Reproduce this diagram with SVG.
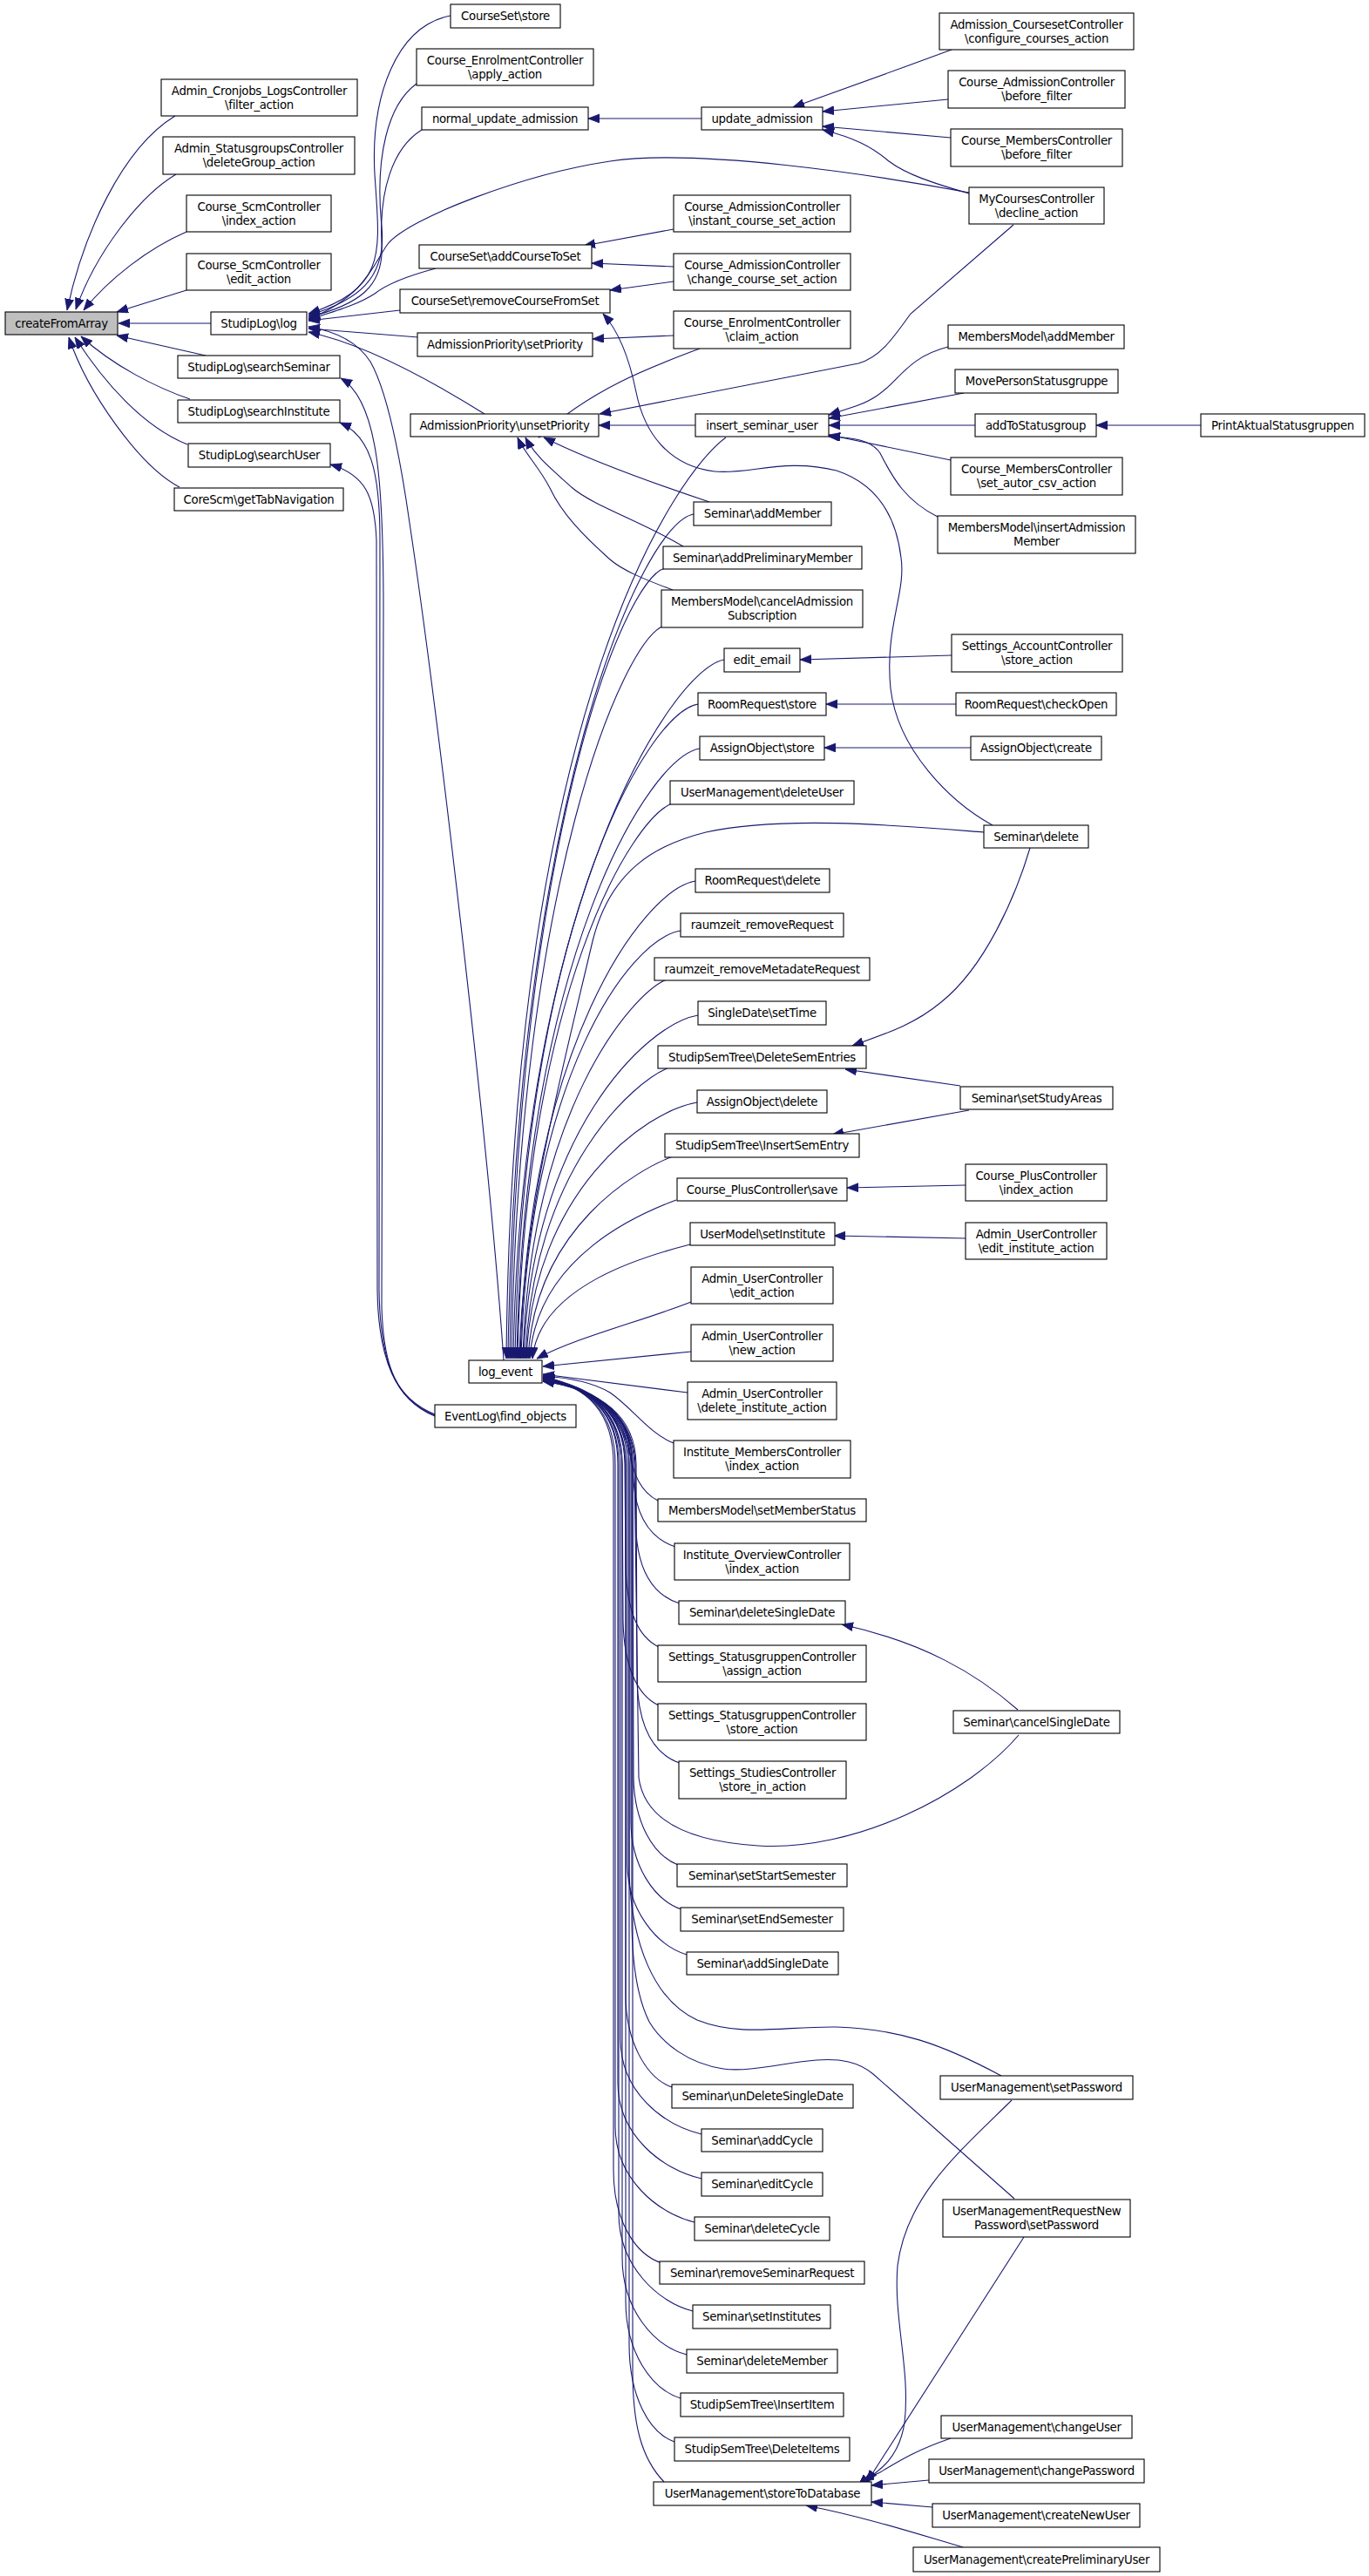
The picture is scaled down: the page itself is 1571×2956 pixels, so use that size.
<svg xmlns="http://www.w3.org/2000/svg" width="1571" height="2956" viewBox="0 0 1571 2956">
<style>
.node rect{fill:#fff;stroke:#000;stroke-width:1.1}
.node text{font-family:"DejaVu Sans","Liberation Sans",sans-serif;font-size:13.3px;letter-spacing:-0.3px;text-anchor:middle;fill:#000}
#edges path{fill:none;stroke:#191970;stroke-width:1.1;marker-end:url(#ah)}
</style>
<defs>
<marker id="ah" markerUnits="userSpaceOnUse" markerWidth="14" markerHeight="11" refX="13" refY="5" orient="auto">
<path d="M0,0 L13,5 L0,10 z" fill="#191970" stroke="#191970" stroke-width="0.8"/>
</marker>
</defs>
<rect x="0" y="0" width="1571" height="2956" fill="#fff"/>
<g id="edges">
<path d="M201,133 C140,170 95,270 77,356"/>
<path d="M202,200 C160,225 110,290 87,355"/>
<path d="M214,266 C170,285 125,320 96,356"/>
<path d="M214,333 L134,358"/>
<path d="M242,371 L136,371"/>
<path d="M236,408 L134,385"/>
<path d="M218,458 C180,445 130,420 93,386"/>
<path d="M215,510 C165,490 120,440 86,387"/>
<path d="M206,559 C160,535 100,450 79,387"/>
<path d="M517,18 C455,30 425,110 430,200 C436,290 445,330 354,360"/>
<path d="M478,96 C445,120 430,180 438,260 C444,320 410,345 354,362"/>
<path d="M484,149 C450,170 435,220 438,280 C441,330 410,350 354,364"/>
<path d="M1112,221 C1000,200 800,170 700,185 C600,200 470,250 445,280 C430,300 420,340 354,366"/>
<path d="M500,308 C470,316 445,325 430,337 C410,350 385,357 354,367"/>
<path d="M459,356 L354,368"/>
<path d="M480,387 L354,377"/>
<path d="M556,475 C500,440 420,395 354,381"/>
<path d="M578,1561 C560,1300 500,800 470,600 C460,530 445,450 425,415 C410,392 385,380 354,375"/>
<path d="M499,1623 C455,1605 440,1570 438,1500 L440,700 C440,560 435,460 391,434"/>
<path d="M499,1624 C452,1606 436,1560 435,1480 L436,620 C436,540 425,500 390,485"/>
<path d="M499,1625 C454,1607 434,1560 433,1480 L432,620 C430,570 420,545 379,533"/>
<path d="M805,136 L675,136"/>
<path d="M773,263 L670,282"/>
<path d="M773,306 L679,302"/>
<path d="M773,323 L700,333"/>
<path d="M1139,947 C1090,920 1030,860 1022,790 C1015,720 1040,680 1034,640 C1028,590 1005,555 960,540 C900,525 860,545 820,541 C770,535 740,500 730,450 C722,410 710,380 692,360"/>
<path d="M773,385 L680,389"/>
<path d="M803,400 C750,420 680,445 618,502"/>
<path d="M1163,258 L1045,360 C1025,388 1010,410 985,417 L688,475"/>
<path d="M798,488 L687,488"/>
<path d="M814,576 C760,558 680,530 624,502"/>
<path d="M784,627 C740,600 680,580 657,560 C635,540 615,525 603,502"/>
<path d="M772,677 C740,665 715,655 700,642 C670,615 645,590 631,560 C618,535 602,520 594,502"/>
<path d="M1092,57 C1030,80 960,105 910,123"/>
<path d="M1088,114 L944,128"/>
<path d="M1091,158 L944,145"/>
<path d="M1112,222 C1070,210 1040,200 1020,185 C1000,168 980,158 944,149"/>
<path d="M1088,398 C1040,410 1030,440 1005,455 C990,465 970,470 951,476"/>
<path d="M1106,451 L951,480"/>
<path d="M1119,488 L951,488"/>
<path d="M1091,528 L951,499"/>
<path d="M1076,593 C1040,575 1025,550 1010,520 C1000,505 980,502 951,501"/>
<path d="M1378,488 L1258,488"/>
<path d="M1092,752 L918,757"/>
<path d="M1097,808 L948,808"/>
<path d="M1114,858 L946,858"/>
<path d="M1182,973 C1165,1030 1130,1110 1080,1150 C1050,1175 1020,1185 978,1200"/>
<path d="M1102,1246 L970,1227"/>
<path d="M1112,1274 L955,1302"/>
<path d="M1108,1360 L972,1363"/>
<path d="M1108,1421 L957,1418"/>
<path d="M1168,1962 C1120,1920 1060,1885 966,1864"/>
<path d="M1161,2410 C1100,2470 1040,2520 1030,2600 C1025,2660 1045,2720 1038,2780 C1032,2820 1010,2835 990,2848"/>
<path d="M1175,2567 L995,2848"/>
<path d="M1091,2798 C1050,2812 1030,2825 1010,2837 C1000,2842 990,2845 1000,2850"/>
<path d="M1066,2846 L1000,2852"/>
<path d="M1070,2877 L1000,2871"/>
<path d="M1105,2923 C1060,2910 1000,2890 925,2875"/>
<path d="M833,502 C780,540 588,800 581,1559"/>
<path d="M796,590 C736,600 591,929 583,1559"/>
<path d="M763,652 C715,665 593,969 585,1559"/>
<path d="M762,718 C715,735 595,1012 587,1559"/>
<path d="M831,757 C771,767 597,1038 589,1559"/>
<path d="M801,808 C741,818 599,1071 591,1559"/>
<path d="M803,859 C743,869 601,1104 593,1559"/>
<path d="M774,921 C725,935 602,1144 594,1559"/>
<path d="M1129,955 C1040,948 900,935 810,955 C750,970 700,1000 680,1080 C640,1250 600,1400 596,1559"/>
<path d="M798,1011 C738,1021 605,1203 597,1559"/>
<path d="M781,1068 C721,1078 606,1240 598,1559"/>
<path d="M765,1124 C725,1140 608,1276 600,1559"/>
<path d="M801,1165 C741,1175 609,1303 601,1559"/>
<path d="M768,1225 C728,1240 611,1342 603,1559"/>
<path d="M800,1265 C740,1275 612,1368 604,1559"/>
<path d="M772,1327 C732,1342 614,1408 606,1559"/>
<path d="M776,1377 C736,1392 616,1441 608,1559"/>
<path d="M792,1428 C745,1440 619,1474 611,1559"/>
<path d="M793,1494 C740,1515 660,1535 616,1559"/>
<path d="M793,1551 L623,1568"/>
<path d="M789,1598 L623,1577"/>
<path d="M773,1656 C745,1645 725,1615 700,1598 C680,1586 655,1581 623,1579"/>
<path d="M755,1722 C735,1712 725,1690 722,1660 C718,1620 680,1592 623,1580"/>
<path d="M775,1775 C745,1765 730,1740 727,1700 C724,1625 682,1593 623,1581"/>
<path d="M780,1840 C748,1830 733,1800 730,1760 L729,1680 C727,1622 684,1594 623,1582"/>
<path d="M756,1890 C732,1878 720,1850 718,1800 L717,1680 C716,1620 680,1592 623,1583"/>
<path d="M756,1957 C730,1945 716,1910 715,1860 L714,1680 C713,1620 678,1592 623,1584"/>
<path d="M780,2023 C748,2012 733,1980 731,1930 L730,1680 C729,1620 684,1594 623,1585"/>
<path d="M1169,1991 C1110,2060 980,2125 870,2118 C790,2113 740,2090 733,2040 L728,1680 C726,1620 682,1593 623,1584"/>
<path d="M778,2140 C748,2128 728,2090 727,2040 L726,1680 C725,1620 682,1593 623,1583"/>
<path d="M782,2191 C750,2180 724,2140 724,2090 L724,1680 C723,1620 682,1593 623,1582"/>
<path d="M788,2243 C752,2232 720,2190 720,2140 L720,1680 C720,1620 680,1592 623,1581"/>
<path d="M1149,2382 C1080,2345 1030,2328 960,2326 C900,2325 850,2338 800,2318 C750,2295 725,2230 722,2150 L722,1680 C722,1620 680,1592 623,1584"/>
<path d="M1164,2523 L1002,2380 C985,2366 965,2362 937,2364 C900,2367 860,2378 830,2374 C790,2368 760,2345 745,2320 C730,2290 725,2250 725,2200 L725,1680 C725,1620 682,1593 623,1585"/>
<path d="M771,2395 C740,2384 718,2340 718,2290 L718,1680 C717,1620 680,1592 623,1583"/>
<path d="M805,2449 C760,2438 712,2400 712,2340 L712,1680 C712,1620 678,1592 623,1582"/>
<path d="M805,2500 C760,2490 709,2450 709,2390 L709,1680 C709,1620 676,1592 623,1581"/>
<path d="M797,2550 C755,2540 706,2500 706,2440 L706,1680 C706,1620 675,1592 623,1580"/>
<path d="M760,2597 C730,2588 704,2550 704,2490 L704,1680 C704,1620 674,1592 623,1579"/>
<path d="M795,2652 C755,2642 710,2600 710,2540 L710,1680 C710,1620 676,1592 623,1580"/>
<path d="M788,2702 C750,2692 714,2650 714,2590 L714,1680 C714,1620 678,1592 623,1581"/>
<path d="M781,2752 C748,2742 718,2700 718,2640 L718,1680 C718,1620 680,1592 623,1582"/>
<path d="M774,2802 C745,2792 722,2750 722,2690 L722,1680 C722,1620 680,1592 623,1583"/>
<path d="M762,2848 C735,2820 726,2780 726,2720 L726,1680 C726,1620 682,1593 623,1584"/>
</g>
<g id="n_createFromArray" class="node"><rect x="6" y="358" width="129" height="26" style="fill:#bfbfbf"/><text x="70.5" y="375.5">createFromArray</text></g>
<g id="n_filter_action" class="node"><rect x="185" y="91" width="225" height="42"/><text x="297.5" y="108.5">Admin_Cronjobs_LogsController</text><text x="297.5" y="124.5">\filter_action</text></g>
<g id="n_deleteGroup" class="node"><rect x="187" y="157" width="220" height="43"/><text x="297" y="175">Admin_StatusgroupsController</text><text x="297" y="191">\deleteGroup_action</text></g>
<g id="n_scm_index" class="node"><rect x="214" y="224" width="166" height="42"/><text x="297" y="241.5">Course_ScmController</text><text x="297" y="257.5">\index_action</text></g>
<g id="n_scm_edit" class="node"><rect x="214" y="291" width="166" height="42"/><text x="297" y="308.5">Course_ScmController</text><text x="297" y="324.5">\edit_action</text></g>
<g id="n_studiplog_log" class="node"><rect x="242" y="358" width="110" height="26"/><text x="297" y="375.5">StudipLog\log</text></g>
<g id="n_searchSeminar" class="node"><rect x="204" y="408" width="186" height="26"/><text x="297" y="425.5">StudipLog\searchSeminar</text></g>
<g id="n_searchInstitute" class="node"><rect x="204" y="459" width="186" height="26"/><text x="297" y="476.5">StudipLog\searchInstitute</text></g>
<g id="n_searchUser" class="node"><rect x="216" y="509" width="163" height="27"/><text x="297.5" y="527">StudipLog\searchUser</text></g>
<g id="n_getTabNavigation" class="node"><rect x="200" y="560" width="194" height="26"/><text x="297" y="577.5">CoreScm\getTabNavigation</text></g>
<g id="n_courseset_store" class="node"><rect x="517" y="5" width="126" height="27"/><text x="580" y="23">CourseSet\store</text></g>
<g id="n_apply_action" class="node"><rect x="478" y="56" width="203" height="42"/><text x="579.5" y="73.5">Course_EnrolmentController</text><text x="579.5" y="89.5">\apply_action</text></g>
<g id="n_normal_update_admission" class="node"><rect x="484" y="123" width="191" height="26"/><text x="579.5" y="140.5">normal_update_admission</text></g>
<g id="n_addCourseToSet" class="node"><rect x="481" y="281" width="198" height="27"/><text x="580" y="299">CourseSet\addCourseToSet</text></g>
<g id="n_removeCourseFromSet" class="node"><rect x="459" y="332" width="241" height="27"/><text x="579.5" y="350">CourseSet\removeCourseFromSet</text></g>
<g id="n_setPriority" class="node"><rect x="479" y="382" width="201" height="27"/><text x="579.5" y="400">AdmissionPriority\setPriority</text></g>
<g id="n_unsetPriority" class="node"><rect x="471" y="475" width="216" height="26"/><text x="579" y="492.5">AdmissionPriority\unsetPriority</text></g>
<g id="n_log_event" class="node"><rect x="538" y="1561" width="84" height="26"/><text x="580" y="1578.5">log_event</text></g>
<g id="n_find_objects" class="node"><rect x="499" y="1612" width="162" height="26"/><text x="580" y="1629.5">EventLog\find_objects</text></g>
<g id="n_update_admission" class="node"><rect x="805" y="123" width="139" height="26"/><text x="874.5" y="140.5">update_admission</text></g>
<g id="n_instant_course_set" class="node"><rect x="773" y="224" width="203" height="42"/><text x="874.5" y="241.5">Course_AdmissionController</text><text x="874.5" y="257.5">\instant_course_set_action</text></g>
<g id="n_change_course_set" class="node"><rect x="773" y="291" width="203" height="42"/><text x="874.5" y="308.5">Course_AdmissionController</text><text x="874.5" y="324.5">\change_course_set_action</text></g>
<g id="n_claim_action" class="node"><rect x="773" y="357" width="203" height="43"/><text x="874.5" y="375">Course_EnrolmentController</text><text x="874.5" y="391">\claim_action</text></g>
<g id="n_insert_seminar_user" class="node"><rect x="798" y="475" width="153" height="26"/><text x="874.5" y="492.5">insert_seminar_user</text></g>
<g id="n_seminar_addMember" class="node"><rect x="796" y="576" width="158" height="27"/><text x="875" y="594">Seminar\addMember</text></g>
<g id="n_addPreliminaryMember" class="node"><rect x="761" y="627" width="228" height="26"/><text x="875" y="644.5">Seminar\addPreliminaryMember</text></g>
<g id="n_cancelAdmission" class="node"><rect x="759" y="677" width="231" height="43"/><text x="874.5" y="695">MembersModel\cancelAdmission</text><text x="874.5" y="711">Subscription</text></g>
<g id="n_edit_email" class="node"><rect x="831" y="744" width="87" height="27"/><text x="874.5" y="762">edit_email</text></g>
<g id="n_roomrequest_store" class="node"><rect x="801" y="795" width="147" height="26"/><text x="874.5" y="812.5">RoomRequest\store</text></g>
<g id="n_assignobject_store" class="node"><rect x="803" y="845" width="143" height="27"/><text x="874.5" y="863">AssignObject\store</text></g>
<g id="n_deleteUser" class="node"><rect x="769" y="896" width="211" height="27"/><text x="874.5" y="914">UserManagement\deleteUser</text></g>
<g id="n_roomrequest_delete" class="node"><rect x="798" y="997" width="154" height="27"/><text x="875" y="1015">RoomRequest\delete</text></g>
<g id="n_raumzeit_removeRequest" class="node"><rect x="781" y="1048" width="187" height="27"/><text x="874.5" y="1066">raumzeit_removeRequest</text></g>
<g id="n_raumzeit_removeMetadateRequest" class="node"><rect x="751" y="1099" width="247" height="26"/><text x="874.5" y="1116.5">raumzeit_removeMetadateRequest</text></g>
<g id="n_setTime" class="node"><rect x="801" y="1149" width="147" height="27"/><text x="874.5" y="1167">SingleDate\setTime</text></g>
<g id="n_DeleteSemEntries" class="node"><rect x="755" y="1200" width="239" height="26"/><text x="874.5" y="1217.5">StudipSemTree\DeleteSemEntries</text></g>
<g id="n_assignobject_delete" class="node"><rect x="800" y="1251" width="149" height="26"/><text x="874.5" y="1268.5">AssignObject\delete</text></g>
<g id="n_InsertSemEntry" class="node"><rect x="763" y="1301" width="223" height="27"/><text x="874.5" y="1319">StudipSemTree\InsertSemEntry</text></g>
<g id="n_plus_save" class="node"><rect x="777" y="1352" width="195" height="26"/><text x="874.5" y="1369.5">Course_PlusController\save</text></g>
<g id="n_setInstitute" class="node"><rect x="792" y="1403" width="166" height="26"/><text x="875" y="1420.5">UserModel\setInstitute</text></g>
<g id="n_user_edit_action" class="node"><rect x="793" y="1454" width="163" height="42"/><text x="874.5" y="1471.5">Admin_UserController</text><text x="874.5" y="1487.5">\edit_action</text></g>
<g id="n_user_new_action" class="node"><rect x="793" y="1520" width="163" height="42"/><text x="874.5" y="1537.5">Admin_UserController</text><text x="874.5" y="1553.5">\new_action</text></g>
<g id="n_delete_institute_action" class="node"><rect x="789" y="1586" width="171" height="43"/><text x="874.5" y="1604">Admin_UserController</text><text x="874.5" y="1620">\delete_institute_action</text></g>
<g id="n_institute_members_index" class="node"><rect x="773" y="1653" width="203" height="43"/><text x="874.5" y="1671">Institute_MembersController</text><text x="874.5" y="1687">\index_action</text></g>
<g id="n_setMemberStatus" class="node"><rect x="755" y="1720" width="239" height="26"/><text x="874.5" y="1737.5">MembersModel\setMemberStatus</text></g>
<g id="n_institute_overview_index" class="node"><rect x="774" y="1771" width="201" height="42"/><text x="874.5" y="1788.5">Institute_OverviewController</text><text x="874.5" y="1804.5">\index_action</text></g>
<g id="n_deleteSingleDate" class="node"><rect x="779" y="1837" width="191" height="27"/><text x="874.5" y="1855">Seminar\deleteSingleDate</text></g>
<g id="n_assign_action" class="node"><rect x="755" y="1888" width="239" height="42"/><text x="874.5" y="1905.5">Settings_StatusgruppenController</text><text x="874.5" y="1921.5">\assign_action</text></g>
<g id="n_statusgruppen_store_action" class="node"><rect x="755" y="1955" width="239" height="42"/><text x="874.5" y="1972.5">Settings_StatusgruppenController</text><text x="874.5" y="1988.5">\store_action</text></g>
<g id="n_store_in_action" class="node"><rect x="779" y="2021" width="192" height="43"/><text x="875" y="2039">Settings_StudiesController</text><text x="875" y="2055">\store_in_action</text></g>
<g id="n_setStartSemester" class="node"><rect x="777" y="2139" width="195" height="26"/><text x="874.5" y="2156.5">Seminar\setStartSemester</text></g>
<g id="n_setEndSemester" class="node"><rect x="781" y="2189" width="187" height="27"/><text x="874.5" y="2207">Seminar\setEndSemester</text></g>
<g id="n_addSingleDate" class="node"><rect x="788" y="2240" width="174" height="26"/><text x="875" y="2257.5">Seminar\addSingleDate</text></g>
<g id="n_unDeleteSingleDate" class="node"><rect x="771" y="2392" width="208" height="27"/><text x="875" y="2410">Seminar\unDeleteSingleDate</text></g>
<g id="n_addCycle" class="node"><rect x="805" y="2443" width="139" height="26"/><text x="874.5" y="2460.5">Seminar\addCycle</text></g>
<g id="n_editCycle" class="node"><rect x="805" y="2493" width="139" height="27"/><text x="874.5" y="2511">Seminar\editCycle</text></g>
<g id="n_deleteCycle" class="node"><rect x="797" y="2544" width="155" height="27"/><text x="874.5" y="2562">Seminar\deleteCycle</text></g>
<g id="n_removeSeminarRequest" class="node"><rect x="757" y="2595" width="235" height="26"/><text x="874.5" y="2612.5">Seminar\removeSeminarRequest</text></g>
<g id="n_setInstitutes" class="node"><rect x="795" y="2645" width="158" height="27"/><text x="874" y="2663">Seminar\setInstitutes</text></g>
<g id="n_deleteMember" class="node"><rect x="788" y="2696" width="173" height="27"/><text x="874.5" y="2714">Seminar\deleteMember</text></g>
<g id="n_InsertItem" class="node"><rect x="781" y="2746" width="187" height="27"/><text x="874.5" y="2764">StudipSemTree\InsertItem</text></g>
<g id="n_DeleteItems" class="node"><rect x="774" y="2797" width="201" height="27"/><text x="874.5" y="2815">StudipSemTree\DeleteItems</text></g>
<g id="n_storeToDatabase" class="node"><rect x="750" y="2848" width="250" height="27"/><text x="875" y="2866">UserManagement\storeToDatabase</text></g>
<g id="n_configure_courses" class="node"><rect x="1078" y="15" width="223" height="42"/><text x="1189.5" y="32.5">Admission_CoursesetController</text><text x="1189.5" y="48.5">\configure_courses_action</text></g>
<g id="n_admission_before_filter" class="node"><rect x="1088" y="81" width="203" height="43"/><text x="1189.5" y="99">Course_AdmissionController</text><text x="1189.5" y="115">\before_filter</text></g>
<g id="n_members_before_filter" class="node"><rect x="1091" y="148" width="197" height="43"/><text x="1189.5" y="166">Course_MembersController</text><text x="1189.5" y="182">\before_filter</text></g>
<g id="n_decline_action" class="node"><rect x="1112" y="215" width="155" height="42"/><text x="1189.5" y="232.5">MyCoursesController</text><text x="1189.5" y="248.5">\decline_action</text></g>
<g id="n_membersmodel_addMember" class="node"><rect x="1088" y="373" width="202" height="27"/><text x="1189" y="391">MembersModel\addMember</text></g>
<g id="n_MovePersonStatusgruppe" class="node"><rect x="1096" y="424" width="187" height="27"/><text x="1189.5" y="442">MovePersonStatusgruppe</text></g>
<g id="n_addToStatusgroup" class="node"><rect x="1119" y="475" width="139" height="26"/><text x="1188.5" y="492.5">addToStatusgroup</text></g>
<g id="n_set_autor_csv" class="node"><rect x="1091" y="525" width="197" height="43"/><text x="1189.5" y="543">Course_MembersController</text><text x="1189.5" y="559">\set_autor_csv_action</text></g>
<g id="n_insertAdmissionMember" class="node"><rect x="1076" y="592" width="227" height="43"/><text x="1189.5" y="610">MembersModel\insertAdmission</text><text x="1189.5" y="626">Member</text></g>
<g id="n_account_store_action" class="node"><rect x="1092" y="728" width="196" height="43"/><text x="1190" y="746">Settings_AccountController</text><text x="1190" y="762">\store_action</text></g>
<g id="n_checkOpen" class="node"><rect x="1097" y="795" width="184" height="26"/><text x="1189" y="812.5">RoomRequest\checkOpen</text></g>
<g id="n_assignobject_create" class="node"><rect x="1114" y="845" width="150" height="27"/><text x="1189" y="863">AssignObject\create</text></g>
<g id="n_seminar_delete" class="node"><rect x="1129" y="947" width="120" height="26"/><text x="1189" y="964.5">Seminar\delete</text></g>
<g id="n_setStudyAreas" class="node"><rect x="1102" y="1247" width="175" height="26"/><text x="1189.5" y="1264.5">Seminar\setStudyAreas</text></g>
<g id="n_plus_index_action" class="node"><rect x="1108" y="1336" width="162" height="42"/><text x="1189" y="1353.5">Course_PlusController</text><text x="1189" y="1369.5">\index_action</text></g>
<g id="n_edit_institute_action" class="node"><rect x="1108" y="1403" width="162" height="42"/><text x="1189" y="1420.5">Admin_UserController</text><text x="1189" y="1436.5">\edit_institute_action</text></g>
<g id="n_cancelSingleDate" class="node"><rect x="1094" y="1963" width="191" height="26"/><text x="1189.5" y="1980.5">Seminar\cancelSingleDate</text></g>
<g id="n_setPassword" class="node"><rect x="1079" y="2382" width="221" height="27"/><text x="1189.5" y="2400">UserManagement\setPassword</text></g>
<g id="n_requestNewPassword" class="node"><rect x="1082" y="2524" width="215" height="43"/><text x="1189.5" y="2542">UserManagementRequestNew</text><text x="1189.5" y="2558">Password\setPassword</text></g>
<g id="n_changeUser" class="node"><rect x="1080" y="2772" width="219" height="26"/><text x="1189.5" y="2789.5">UserManagement\changeUser</text></g>
<g id="n_changePassword" class="node"><rect x="1066" y="2822" width="247" height="27"/><text x="1189.5" y="2840">UserManagement\changePassword</text></g>
<g id="n_createNewUser" class="node"><rect x="1070" y="2873" width="238" height="27"/><text x="1189" y="2891">UserManagement\createNewUser</text></g>
<g id="n_createPreliminaryUser" class="node"><rect x="1048" y="2923" width="283" height="28"/><text x="1189.5" y="2941.5">UserManagement\createPreliminaryUser</text></g>
<g id="n_PrintAktualStatusgruppen" class="node"><rect x="1378" y="475" width="188" height="26"/><text x="1472" y="492.5">PrintAktualStatusgruppen</text></g>
</svg>
